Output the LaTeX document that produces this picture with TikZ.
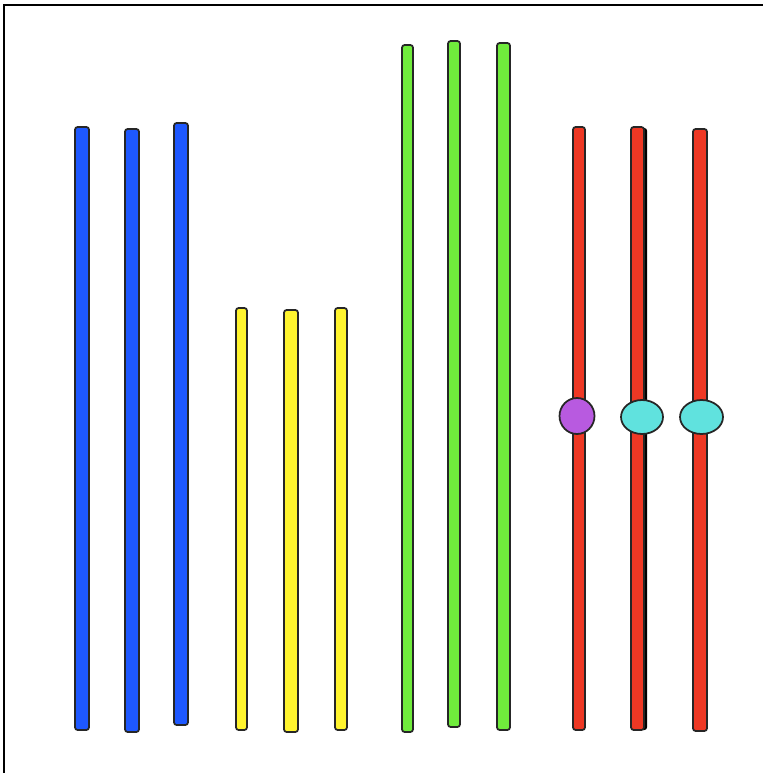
\documentclass[tikz,border=0pt]{standalone}
\usetikzlibrary{positioning}

\definecolor{barblue}{RGB}{30,88,255}
\definecolor{baryellow}{RGB}{255,244,46}
\definecolor{bargreen}{RGB}{112,236,60}
\definecolor{barred}{RGB}{238,56,36}
\definecolor{beadpurple}{RGB}{184,90,224}
\definecolor{beadcyan}{RGB}{96,226,222}

\begin{document}
\begin{tikzpicture}[x=0.02cm,y=-0.02cm]
\tikzset{
  bar/.style={draw=black!85,line width=1pt,rounded corners=1.5pt},
  bluebar/.style={bar,fill=barblue},
  yellowbar/.style={bar,fill=baryellow},
  greenbar/.style={bar,fill=bargreen},
  redbar/.style={bar,fill=barred},
  bead/.style={draw=black!85,line width=1pt},
  frameline/.style={line width=1.4pt}
}
\useasboundingbox (0,0) rectangle (763,773);
% frame
\draw[frameline] (4,773) -- (4,5) -- (763,5);
% blue
\draw[bluebar] (75,127) rectangle (89,730);
\draw[bluebar] (125,129) rectangle (139,732);
\draw[bluebar] (174,123) rectangle (188,725);
% yellow
\draw[yellowbar] (236,308) rectangle (247,730);
\draw[yellowbar] (284,310) rectangle (298,732);
\draw[yellowbar] (335,308) rectangle (347,730);
% green
\draw[greenbar] (402,45) rectangle (413,732);
\draw[greenbar] (448,41) rectangle (460,727);
\draw[greenbar] (497,43) rectangle (510,730);
% red
\draw[redbar] (573,127) rectangle (585,730);
\fill[black,rounded corners=1.5pt] (635,128) rectangle (647,730);
\draw[redbar] (631,127) rectangle (644,730);
\draw[redbar] (693,129) rectangle (707,731);
% beads
\filldraw[bead,fill=beadpurple] (577,416) ellipse (17.5 and 18);
\filldraw[bead,fill=beadcyan] (642,417) ellipse (21 and 17);
\filldraw[bead,fill=beadcyan] (701.5,417) ellipse (21.5 and 17);
\end{tikzpicture}
\end{document}
